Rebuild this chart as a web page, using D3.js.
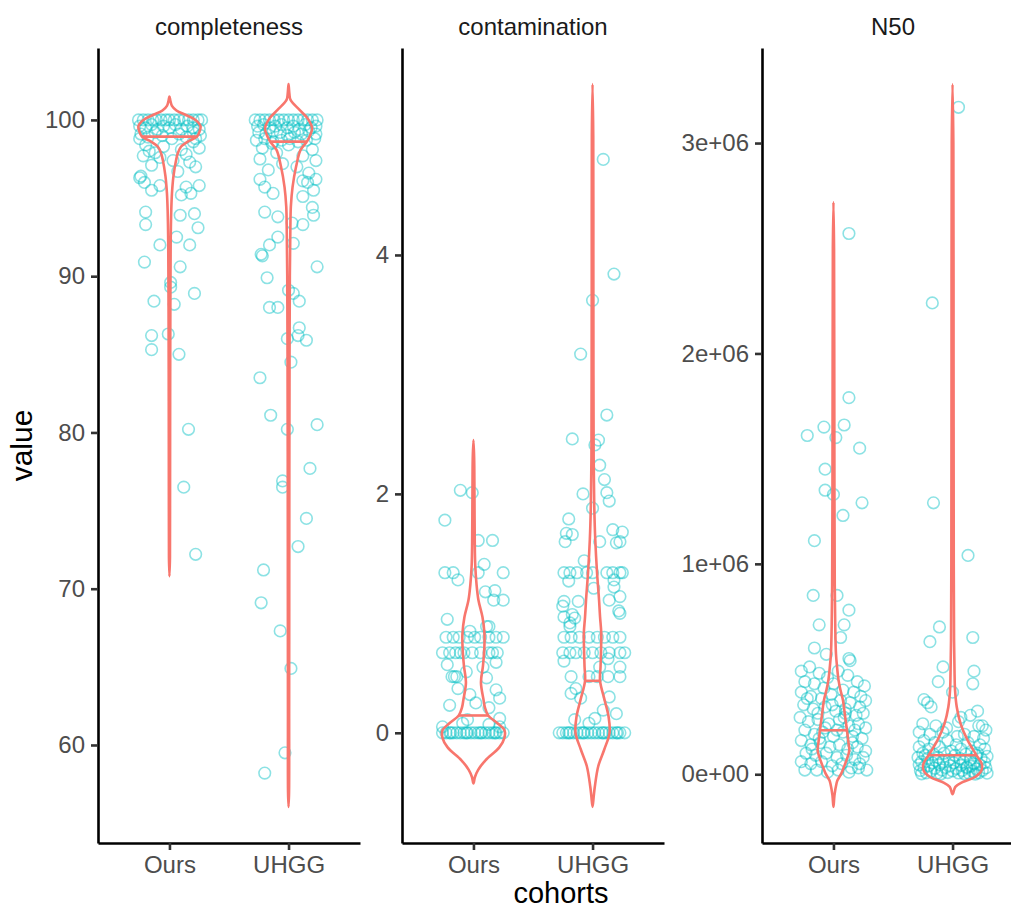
<!DOCTYPE html>
<html>
<head>
<meta charset="utf-8">
<script src="https://cdn.jsdelivr.net/npm/d3@7"></script>
<style>
body { margin: 0; background: #fff; }
svg text { font-family: "Liberation Sans", Arial, sans-serif; }
</style>
</head>
<body>
<svg id="chart"></svg>
<script>
const cohorts = ["Ours", "UHGG"];
const metrics = ["completeness", "contamination", "N50"];

const completenessTicks = [60, 70, 80, 90, 100];
const contaminationTicks = [0, 2, 4];
const n50Ticks = [0, 1e6, 2e6, 3e6];
const n50TickLabels = ["0e+00", "1e+06", "2e+06", "3e+06"];

// medians drawn on the violins [Ours, UHGG]
const completenessMedians = [98.93, 98.61];
const contaminationMedians = [0.145, 0.435];
const n50Medians = [2.09e5, 0.9e5];

// points: [jitter (category units), value]
const completenessOurs = [
 [-0.26,100],[-0.22,100],[-0.18,100],[-0.14,100],[-0.11,100],[-0.07,100],[-0.03,100],[0.00,100],[0.04,100],[0.08,100],[0.12,100],[0.16,100],[0.20,100],[0.24,100],[0.27,100],
 [-0.25,99.6],[-0.20,99.5],[-0.15,99.7],[-0.10,99.4],[-0.05,99.6],[0.00,99.5],[0.05,99.7],[0.10,99.4],[0.15,99.6],[0.20,99.5],[0.25,99.4],
 [-0.24,99.1],[-0.18,98.9],[-0.12,99.2],[-0.06,99.0],[0.02,98.8],[0.08,99.1],[0.14,98.9],[0.20,99.2],[0.26,99.0],
 [-0.25,98.8],[0.22,98.8],[-0.20,98.4],[0.20,98.6],[0.25,98.2],[-0.17,98.0],[0.14,97.8],[-0.08,97.6],[0.17,97.3],[-0.15,97.1],[0.22,97.0],[0.07,96.7],[-0.24,96.4],[-0.05,98.3],[0.10,98.1],[-0.12,97.9],[0.03,97.4],[-0.22,97.7],
 [-0.25,96.3],[-0.21,96.0],[-0.15,95.5],[-0.08,95.8],[0.14,95.7],[0.25,95.8],[0.18,95.3],[0.10,95.2],[-0.20,94.1],[-0.20,93.3],[0.09,93.9],[0.21,94.0],[0.24,93.1],[0.06,92.5],[-0.08,92.0],[0.17,92.0],[-0.21,90.9],[0.09,90.6],[0.01,89.6],[0.01,89.3],[0.21,88.9],[-0.13,88.4],[0.04,88.2],[-0.15,86.2],[-0.01,86.3],[-0.15,85.3],[0.08,85.0],[0.16,80.2],[0.12,76.5],[0.22,72.2]
];
const completenessUHGG = [
 [-0.28,100],[-0.24,100],[-0.20,100],[-0.16,100],[-0.12,100],[-0.08,100],[-0.04,100],[0.00,100],[0.04,100],[0.08,100],[0.12,100],[0.16,100],[0.20,100],[0.24,100],
 [-0.26,99.6],[-0.21,99.7],[-0.16,99.5],[-0.11,99.6],[-0.06,99.7],[-0.01,99.5],[0.04,99.6],[0.09,99.4],[0.14,99.7],[0.19,99.5],[0.23,99.6],
 [-0.25,99.2],[-0.19,99.1],[-0.13,99.3],[-0.07,99.2],[-0.01,99.0],[0.05,99.2],[0.11,99.1],[0.17,99.3],[0.23,99.1],
 [-0.27,98.7],[-0.20,98.8],[-0.13,98.6],[-0.06,98.7],[0.01,98.8],[0.08,98.6],[0.15,98.7],[0.22,98.8],
 [-0.22,98.2],[0.20,98.1],[-0.10,97.9],[0.12,97.7],[-0.24,97.5],[0.23,97.4],[-0.05,97.2],[0.07,97.0],[-0.17,96.8],[0.17,96.6],[0.00,98.4],[-0.14,98.5],
 [-0.24,96.2],[-0.20,95.7],[-0.13,95.3],[0.12,96.1],[0.16,96.0],[0.23,96.2],[0.12,95.1],[0.21,95.5],[-0.20,94.1],[-0.09,93.8],[0.03,93.4],[0.12,93.3],[0.20,94.4],[0.21,93.9],[-0.09,92.5],[-0.16,92.0],[-0.22,91.3],[-0.23,91.4],[0.04,92.1],[0.24,90.6],[-0.18,89.9],[0.00,89.1],[0.04,88.9],[0.09,88.4],[-0.16,88.0],[-0.09,88.0],[0.09,86.7],[0.15,85.9],[-0.01,86.0],[0.08,86.2],
 [0.02,84.5],[-0.24,83.5],[-0.15,81.1],[-0.01,80.2],[0.24,80.5],[0.18,77.7],[-0.05,76.9],[-0.05,76.5],[0.15,74.5],[0.08,72.7],[-0.21,71.2],[-0.23,69.1],[-0.07,67.3],[0.02,64.9],[-0.03,59.5],[-0.20,58.2]
];
const contaminationOurs = [
 [-0.11,2.03],[-0.01,2.01],[-0.24,1.78],[0.04,1.61],[0.16,1.61],[0.09,1.41],[-0.24,1.34],[-0.17,1.34],[-0.13,1.28],[0.04,1.34],[0.25,1.34],[0.10,1.18],[0.18,1.19],[0.17,1.11],[0.25,1.11],[-0.22,0.95],[0.11,0.89],[-0.03,0.85],[0.13,0.89],
 [-0.23,0.8],[-0.17,0.8],[-0.12,0.8],[-0.05,0.8],[0.01,0.8],[0.06,0.8],[0.13,0.8],[0.19,0.8],[0.25,0.8],
 [-0.26,0.67],[-0.20,0.67],[-0.15,0.67],[-0.08,0.67],[-0.01,0.67],[0.06,0.67],[0.13,0.67],[0.20,0.67],[-0.11,0.67],[0.16,0.67],
 [-0.18,0.47],[-0.16,0.47],[-0.14,0.47],[-0.22,0.57],[0.11,0.46],[-0.13,0.37],[-0.03,0.32],[0.19,0.36],[0.22,0.29],[-0.20,0.23],[0.02,0.25],[0.13,0.21],[-0.05,0.11],[0.22,0.12],[-0.26,0.05],[0.08,0.55],[0.19,0.59],[-0.06,0.51],[-0.09,0.08],[0.13,0.07],[0.22,0.05],
 [-0.26,0],[-0.23,0],[-0.20,0],[-0.17,0],[-0.14,0],[-0.11,0],[-0.08,0],[-0.05,0],[-0.02,0],[0.01,0],[0.04,0],[0.07,0],[0.10,0],[0.13,0],[0.16,0],[0.19,0],[0.22,0],[0.25,0],[-0.19,0],[-0.06,0],[0.06,0],[0.18,0]
];
const contaminationUHGG = [
 [0.09,4.80],[0.18,3.84],[0.00,3.62],[-0.10,3.17],[0.12,2.66],[-0.17,2.46],[0.05,2.45],[0.02,2.41],[0.06,2.24],[0.10,2.12],[0.12,2.01],[0.14,1.94],[-0.08,2.00],[0.00,1.88],
 [-0.20,1.79],[-0.22,1.67],[-0.17,1.66],[-0.23,1.60],[0.06,1.60],[0.17,1.70],[0.25,1.68],[0.23,1.60],[0.20,1.59],[-0.07,1.44],
 [-0.24,1.34],[-0.19,1.34],[-0.13,1.34],[-0.05,1.34],[0.00,1.34],[0.12,1.34],[0.17,1.34],[0.23,1.34],[0.25,1.34],
 [-0.20,1.27],[0.01,1.21],[0.18,1.28],[0.18,1.22],[-0.24,1.10],[-0.12,1.10],[0.23,1.14],[0.14,1.11],[-0.24,0.97],[-0.15,0.96],[0.22,1.02],[-0.19,0.89],[-0.25,1.06],[-0.17,0.99],[0.23,1.00],[-0.19,0.92],
 [-0.24,0.8],[-0.18,0.8],[-0.11,0.8],[-0.03,0.8],[0.04,0.8],[0.10,0.8],[0.17,0.8],[0.23,0.8],
 [-0.25,0.67],[-0.19,0.67],[-0.14,0.67],[-0.07,0.67],[0.00,0.67],[0.07,0.67],[0.14,0.67],[0.23,0.67],[0.27,0.67],
 [-0.24,0.60],[0.06,0.55],[0.13,0.62],[0.23,0.55],[-0.18,0.47],[-0.03,0.47],[0.04,0.47],[0.13,0.47],[0.23,0.47],
 [-0.14,0.37],[-0.18,0.33],[-0.10,0.29],[0.14,0.30],[0.09,0.19],[0.02,0.12],[-0.15,0.11],[0.20,0.16],[-0.03,0.08],
 [-0.28,0],[-0.25,0],[-0.22,0],[-0.19,0],[-0.16,0],[-0.13,0],[-0.10,0],[-0.07,0],[-0.04,0],[-0.01,0],[0.02,0],[0.05,0],[0.08,0],[0.11,0],[0.14,0],[0.17,0],[0.20,0],[0.23,0],[0.27,0],[-0.20,0],[-0.08,0],[0.09,0],[0.21,0]
];
const n50Ours = [
 [0.13,2.57e6],[0.13,1.79e6],[-0.08,1.65e6],[0.09,1.66e6],[-0.22,1.61e6],[0.02,1.60e6],[0.22,1.55e6],[-0.07,1.45e6],[-0.07,1.35e6],[0.00,1.33e6],[0.24,1.29e6],[0.08,1.23e6],[-0.16,1.11e6],
 [-0.17,8.5e5],[0.03,8.5e5],[0.13,7.8e5],[-0.12,7.1e5],[0.09,7.1e5],[0.06,6.5e5],[-0.16,6.0e5],[-0.06,5.7e5],[0.13,5.5e5],[0.14,5.4e5],
 [-0.27,4.9e5],[-0.20,5.1e5],[-0.12,4.8e5],[-0.05,4.6e5],[0.04,4.9e5],[0.12,4.7e5],[0.20,4.4e5],[0.26,4.2e5],
 [-0.24,4.4e5],[-0.16,4.3e5],[-0.08,4.1e5],[0.00,4.3e5],[0.08,4.0e5],[0.17,3.9e5],[0.23,3.7e5],
 [-0.27,3.9e5],[-0.19,3.7e5],[-0.10,3.6e5],[-0.02,3.8e5],[0.06,3.5e5],[0.14,3.4e5],[0.22,3.2e5],[0.27,3.5e5],
 [-0.25,3.3e5],[-0.17,3.1e5],[-0.07,3.2e5],[0.02,3.0e5],[0.10,2.9e5],[0.19,2.8e5],[0.25,2.9e5],
 [-0.28,2.7e5],[-0.21,2.5e5],[-0.13,2.6e5],[-0.04,2.4e5],[0.05,2.6e5],[0.13,2.3e5],[0.21,2.4e5],[0.27,2.2e5],
 [-0.24,2.1e5],[-0.16,1.9e5],[-0.09,2.0e5],[0.00,1.8e5],[0.08,2.0e5],[0.16,1.8e5],[0.24,1.7e5],
 [-0.27,1.6e5],[-0.19,1.4e5],[-0.11,1.5e5],[-0.03,1.3e5],[0.05,1.4e5],[0.12,1.2e5],[0.20,1.3e5],[0.27,1.1e5],
 [-0.23,1.0e5],[-0.15,0.9e5],[-0.06,1.0e5],[0.03,0.8e5],[0.11,0.9e5],[0.18,0.7e5],[0.25,0.8e5],
 [-0.27,0.6e5],[-0.19,0.5e5],[-0.10,0.6e5],[-0.01,0.4e5],[0.07,0.5e5],[0.15,0.3e5],[0.22,0.5e5],
 [-0.24,0.2e5],[-0.14,0.2e5],[-0.05,0.1e5],[0.04,0.2e5],[0.13,0.1e5],[0.21,0.3e5],[0.28,0.2e5],
 [-0.22,3.6e5],[-0.13,2.9e5],[0.09,2.7e5],[-0.07,2.2e5],[0.18,2.1e5],[0.10,3.1e5],[-0.18,1.2e5],[0.16,1.5e5],[-0.01,3.3e5],[0.03,2.1e5],[-0.12,1.7e5]
];
const n50UHGG = [
 [0.05,3.17e6],[-0.17,2.24e6],[-0.16,1.29e6],[0.13,1.04e6],[-0.11,7.0e5],[-0.19,6.3e5],[0.17,6.5e5],[-0.08,5.1e5],[0.18,4.9e5],[-0.12,4.4e5],[0.17,4.3e5],[0.00,3.9e5],[-0.24,3.55e5],[-0.18,3.2e5],[0.21,3.0e5],[0.15,2.8e5],[0.25,2.3e5],[-0.21,3.4e5],[0.07,2.7e5],
 [-0.25,2.4e5],[-0.14,2.3e5],[0.05,2.5e5],[0.22,2.3e5],[0.28,2.1e5],
 [-0.28,2.0e5],[-0.19,1.9e5],[-0.08,2.0e5],[0.10,1.9e5],[0.18,1.8e5],[0.26,1.7e5],
 [-0.24,1.6e5],[-0.15,1.5e5],[-0.04,1.6e5],[0.03,1.4e5],[0.13,1.5e5],[0.23,1.4e5],
 [-0.28,1.3e5],[-0.20,1.2e5],[-0.11,1.3e5],[-0.01,1.1e5],[0.07,1.2e5],[0.16,1.1e5],[0.27,1.2e5],
 [-0.25,1.0e5],[-0.16,0.95e5],[-0.07,1.0e5],[0.02,0.9e5],[0.11,0.95e5],[0.20,0.9e5],[0.29,0.85e5],
 [-0.29,0.8e5],[-0.21,0.75e5],[-0.12,0.8e5],[-0.03,0.7e5],[0.06,0.75e5],[0.15,0.7e5],[0.24,0.75e5],
 [-0.26,0.6e5],[-0.17,0.55e5],[-0.08,0.6e5],[0.01,0.55e5],[0.09,0.6e5],[0.18,0.5e5],[0.27,0.55e5],
 [-0.28,0.45e5],[-0.20,0.4e5],[-0.11,0.45e5],[-0.02,0.4e5],[0.07,0.42e5],[0.15,0.38e5],[0.23,0.44e5],
 [-0.24,0.3e5],[-0.15,0.28e5],[-0.06,0.32e5],[0.03,0.27e5],[0.12,0.3e5],[0.20,0.26e5],[0.28,0.3e5],
 [-0.27,0.18e5],[-0.18,0.15e5],[-0.09,0.2e5],[0.00,0.16e5],[0.08,0.18e5],[0.17,0.14e5],[0.25,0.18e5],
 [-0.22,0.07e5],[-0.13,0.05e5],[-0.04,0.08e5],[0.05,0.06e5],[0.14,0.04e5],[0.22,0.07e5],[0.29,0.05e5],
 [-0.26,0.02e5],[-0.10,0.01e5],[0.10,0.02e5],[0.19,0.01e5],
 [-0.23,0.9e5],[0.04,1.8e5],[-0.05,2.2e5],[0.21,1.0e5],[-0.14,0.65e5],[0.12,0.35e5]
];

// violin outlines: [value, relative density]
const completenessOursViolin = [[70.8,0],[72,0.5],[76,0.6],[82,0.7],[88,0.9],[92,1.2],[94.2,1.8],[95.3,2.5],[96.4,4],[97.45,6.7],[97.9,8.5],[98.3,11.7],[98.6,18],[98.93,27.5],[99.25,30],[99.6,31],[100.0,26],[100.3,17],[100.6,7],[100.9,2.5],[101.2,1],[101.5,0]];
const completenessUHGGViolin = [[56.04,0],[57,0.5],[62,0.6],[70,0.7],[78,0.8],[85,1.0],[90,1.3],[93,1.8],[94.45,2.3],[95.7,4],[97.0,7.5],[98.08,12],[98.61,18.3],[99.0,21.5],[99.47,23.5],[100.1,19],[100.64,11],[101.28,2],[101.7,0.8],[102.29,0]];
const contaminationOursViolin = [[-0.424,0],[-0.37,1.5],[-0.31,4.7],[-0.23,12],[-0.12,26],[-0.04,31],[0.02,31],[0.08,24],[0.145,14.7],[0.21,11.5],[0.28,10],[0.42,7.5],[0.56,9.5],[0.70,10.8],[0.83,11],[0.97,9],[1.11,5],[1.25,3],[1.4,1.8],[1.6,1.3],[2.0,1],[2.3,0.7],[2.45,0]];
const contaminationUHGGViolin = [[-0.62,0],[-0.53,1.2],[-0.45,2.3],[-0.28,5.7],[-0.14,11.7],[0.0,17],[0.136,16],[0.276,12],[0.435,7.5],[0.555,8],[0.7,8.5],[0.834,8.7],[0.97,7.5],[1.113,6.5],[1.34,4.5],[1.62,2.7],[1.9,1.7],[2.3,1.1],[3.0,0.9],[4.0,0.8],[5.0,0.7],[5.43,0]];
const n50OursViolin = [[-1.55e5,0],[-1.0e5,1.0],[-0.45e5,3],[-0.29e5,4],[0.03e5,7.8],[0.35e5,10.5],[0.8e5,14],[1.14e5,15.8],[1.5e5,15],[2.09e5,13.5],[2.8e5,11.5],[3.52e5,9.5],[4.0e5,7],[4.5e5,5],[5.1e5,3.6],[5.74e5,2.5],[7e5,1.8],[9e5,1.3],[1.3e6,1.0],[2.0e6,0.8],[2.5e6,0.6],[2.72e6,0]];
const n50UHGGViolin = [[-0.95e5,0],[-0.6e5,2.8],[-0.37e5,10],[-0.13e5,22.5],[0.19e5,29],[0.51e5,29],[0.9e5,24],[1.62e5,15],[2.41e5,8],[3.2e5,4.2],[4.0e5,2.5],[4.8e5,2],[6.4e5,1.5],[1.0e6,1.2],[2.0e6,1.0],[3.0e6,0.8],[3.28e6,0]];

function drawChart() {
	const W = 1011, H = 911;
	const top = 48, bottom = 843, panelW = 262;
	const panelLeft = [98, 402, 762];

	const svg = d3.select("#chart").attr("width", W).attr("height", H);

	const panels = [
		{name: metrics[0], pts: [completenessOurs, completenessUHGG], violins: [completenessOursViolin, completenessUHGGViolin], medians: completenessMedians, ticks: completenessTicks, labels: completenessTicks.map(String)},
		{name: metrics[1], pts: [contaminationOurs, contaminationUHGG], violins: [contaminationOursViolin, contaminationUHGGViolin], medians: contaminationMedians, ticks: contaminationTicks, labels: contaminationTicks.map(String)},
		{name: metrics[2], pts: [n50Ours, n50UHGG], violins: [n50OursViolin, n50UHGGViolin], medians: n50Medians, ticks: n50Ticks, labels: n50TickLabels}
	];

	// density -> half width in category units
	const wScale = d3.scaleLinear().domain([0, 32]).range([0, 0.269]);
	const outline = d3.line().curve(d3.curveCatmullRomClosed.alpha(0.5));

	panels.forEach((p, k) => {
		const g = svg.append("g").attr("transform", "translate(" + panelLeft[k] + ",0)");

		const xScale = d3.scaleLinear().domain([0.4, 2.6]).range([0, panelW]);
		const allV = p.violins.flat().map(d => d[0]);
		const lo = d3.min(allV), hi = d3.max(allV), pad = (hi - lo) * 0.05;
		const yScale = d3.scaleLinear().domain([lo - pad, hi + pad]).range([bottom, top]);

		// jittered points
		p.pts.forEach((pts, i) => {
			g.append("g").selectAll("circle")
				.data(pts)
				.join("circle")
				.attr("cx", d => xScale(i + 1 + d[0]))
				.attr("cy", d => yScale(d[1]))
				.attr("r", 5.8)
				.attr("fill", "none")
				.attr("stroke", "#00BFC4")
				.attr("stroke-opacity", 0.45)
				.attr("stroke-width", 1.6);
		});

		// violins + median lines
		p.violins.forEach((prof, i) => {
			const c = i + 1;
			const right = prof.map(d => [xScale(c + wScale(d[1])), yScale(d[0])]);
			const left = prof.slice().reverse().map(d => [xScale(c - wScale(d[1])), yScale(d[0])]);
			g.append("path")
				.attr("d", outline(right.concat(left.slice(1, -1))))
				.attr("fill", "none")
				.attr("stroke", "#F8766D")
				.attr("stroke-width", 2.6)
				.attr("stroke-linejoin", "round");

			const m = p.medians[i];
			let dm = 0;
			for (let j = 0; j < prof.length - 1; j++) {
				if (m >= prof[j][0] && m <= prof[j + 1][0]) {
					const t = (m - prof[j][0]) / (prof[j + 1][0] - prof[j][0]);
					dm = prof[j][1] + t * (prof[j + 1][1] - prof[j][1]);
				}
			}
			g.append("line")
				.attr("x1", xScale(c - wScale(dm)))
				.attr("x2", xScale(c + wScale(dm)))
				.attr("y1", yScale(m))
				.attr("y2", yScale(m))
				.attr("stroke", "#F8766D")
				.attr("stroke-width", 2.6);
		});

		// axes
		const yAxis = d3.axisLeft(yScale)
			.tickValues(p.ticks)
			.tickFormat((d, i) => p.labels[i])
			.tickSize(7).tickPadding(6).tickSizeOuter(0);
		const xAxis = d3.axisBottom(xScale)
			.tickValues([1, 2])
			.tickFormat((d, i) => cohorts[i])
			.tickSize(7).tickPadding(6).tickSizeOuter(0);

		const gY = g.append("g").attr("class", "axis y-axis").call(yAxis);
		const gX = g.append("g").attr("class", "axis x-axis").attr("transform", "translate(0," + bottom + ")").call(xAxis);

		[gX, gY].forEach(ax => {
			ax.attr("font-family", null).attr("font-size", null);
			ax.select(".domain").attr("stroke", "#000").attr("stroke-width", 2.6);
			ax.selectAll(".tick line").attr("stroke", "#333").attr("stroke-width", 2.6);
			ax.selectAll(".tick text").attr("fill", "#4D4D4D").style("font-size", "24px");
		});

		// strip title
		g.append("text")
			.attr("x", panelW / 2)
			.attr("y", 35)
			.attr("text-anchor", "middle")
			.attr("fill", "#1A1A1A")
			.style("font-size", "24px")
			.text(p.name);
	});

	svg.append("text")
		.attr("transform", "translate(32," + ((top + bottom) / 2) + ") rotate(-90)")
		.attr("text-anchor", "middle")
		.style("font-size", "30px")
		.text("value");

	svg.append("text")
		.attr("x", (panelLeft[0] + panelLeft[2] + panelW) / 2)
		.attr("y", 903)
		.attr("text-anchor", "middle")
		.style("font-size", "29px")
		.text("cohorts");
}

drawChart();
</script>
</body>
</html>
